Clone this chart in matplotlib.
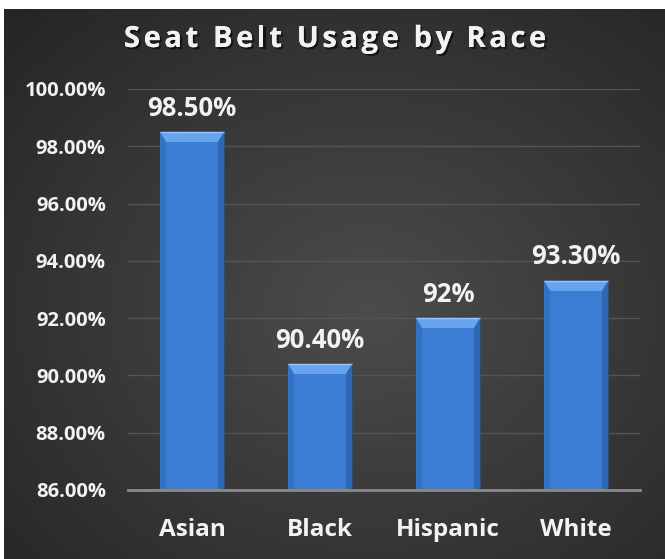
import numpy as np
import matplotlib
matplotlib.use("Agg")
import matplotlib.pyplot as plt
from matplotlib.patches import Polygon
import matplotlib.patheffects as pe
from matplotlib.font_manager import FontProperties

categories = ["Asian", "Black", "Hispanic", "White"]
values = [98.5, 90.4, 92.0, 93.3]
value_labels = ["98.50%", "90.40%", "92%", "93.30%"]
yticks = [86, 88, 90, 92, 94, 96, 98, 100]
ytick_labels = ["86.00%", "88.00%", "90.00%", "92.00%", "94.00%", "96.00%", "98.00%", "100.00%"]
title = "Seat Belt Usage by Race"

FAM = ['Open Sans', 'DejaVu Sans']
plt.rcParams['font.family'] = FAM

W, H = 665, 559
fig = plt.figure(figsize=(W / 100, H / 100), dpi=100, facecolor="white")

# dark radial-gradient background panel
bg = fig.add_axes([4 / W, 0, 1 - 4 / W, 1 - 9 / H])
bg.set_axis_off()
yy, xx = np.mgrid[0:1:300j, 0:1:360j]
r = np.sqrt(((xx - 0.55) / 0.75) ** 2 + ((yy - 0.45) / 0.75) ** 2)
r = np.clip(r, 0, 1)
inner = np.array([0x4c, 0x4c, 0x4c]) / 255
outer = np.array([0x26, 0x26, 0x26]) / 255
img = inner[None, None, :] * (1 - r[..., None]) + outer[None, None, :] * r[..., None]
bg.imshow(img, aspect="auto", extent=[0, 1, 0, 1], origin="lower")
bg.set_xlim(0, 1)
bg.set_ylim(0, 1)

ax = fig.add_axes([128 / W, 69 / H, 512 / W, 401 / H])
ax.patch.set_alpha(0)
ax.set_xlim(-0.5, len(categories) - 0.5)
ax.set_ylim(yticks[0], yticks[-1])

x = np.arange(len(categories))
bw = 0.5
base = yticks[0]
main_c = "#3B7DD4"
ax.bar(x, np.array(values) - base, bottom=base, width=bw, color=main_c,
       edgecolor="#1f4f8f", linewidth=0.8, zorder=3)

# bevel effect derived from bar geometry
px_y = (yticks[-1] - yticks[0]) / 401.0
px_x = (len(categories)) / 512.0
bev_h = 10 * px_y
bev_w = 6 * px_x
for xi, v in zip(x, values):
    l, rgt = xi - bw / 2, xi + bw / 2
    ax.add_patch(Polygon([[l, v], [rgt, v], [rgt - bev_w, v - bev_h], [l + bev_w, v - bev_h]],
                         closed=True, facecolor="#68A4EE", edgecolor="none", zorder=4))
    ax.add_patch(Polygon([[l, v], [l + bev_w, v - bev_h], [l + bev_w, base], [l, base]],
                         closed=True, facecolor="#3472C3", edgecolor="none", zorder=4))
    ax.add_patch(Polygon([[rgt, v], [rgt - bev_w, v - bev_h], [rgt - bev_w, base], [rgt, base]],
                         closed=True, facecolor="#2F68B2", edgecolor="none", zorder=4))
    ax.plot([l, rgt], [v, v], color="#9cc6f5", lw=1, zorder=5, solid_capstyle="butt")

lab_fp = FontProperties(family=FAM, weight="bold", size=18.5)
for xi, v, lab in zip(x, values, value_labels):
    ax.annotate(lab, (xi, v), xytext=(0, 7.5), textcoords="offset points",
                ha="center", va="bottom", color="#F2F2F2", fontproperties=lab_fp, zorder=6)

ax.set_yticks(yticks)
ax.set_yticklabels(ytick_labels)
ax.set_xticks(x)
ax.set_xticklabels(categories)
ax.tick_params(axis="y", length=0, pad=16, labelcolor="#F2F2F2")
ax.tick_params(axis="x", length=0, pad=20, labelcolor="#F2F2F2")
for t in ax.get_yticklabels():
    t.set_fontproperties(FontProperties(family=FAM, weight="bold", size=14.5))
for t in ax.get_xticklabels():
    t.set_fontproperties(FontProperties(family=FAM, weight="bold", size=17.5))

ax.grid(axis="y", color="#555555", linewidth=1, zorder=0)
ax.set_axisbelow(True)
for s in ["top", "right", "left"]:
    ax.spines[s].set_visible(False)
ax.spines["bottom"].set_color("#8a8a8a")
ax.spines["bottom"].set_linewidth(2)
ax.spines["bottom"].set_zorder(6)

# title with letter spacing
title_fp = FontProperties(family=FAM, weight="bold", size=21)
renderer = fig.canvas.get_renderer()
def tw(s):
    w, _, _ = renderer.get_text_width_height_descent(s + "|", title_fp, ismath=False)
    w0, _, _ = renderer.get_text_width_height_descent("|", title_fp, ismath=False)
    return w - w0
spacing = 3.6
total = tw(title) + spacing * (len(title) - 1)
x0 = 335 - total / 2
yc = H - 47
shadow = [pe.withSimplePatchShadow(offset=(1.5, -1.5), shadow_rgbFace="black", alpha=0.6), pe.Normal()]
for i, ch in enumerate(title):
    if ch == " ":
        continue
    xp = x0 + tw(title[:i]) + spacing * i
    fig.text(xp / W, yc / H, ch, ha="left", va="baseline", color="#F2F2F2",
             fontproperties=title_fp, path_effects=shadow)

fig.savefig("out.png", dpi=100, facecolor=fig.get_facecolor())
